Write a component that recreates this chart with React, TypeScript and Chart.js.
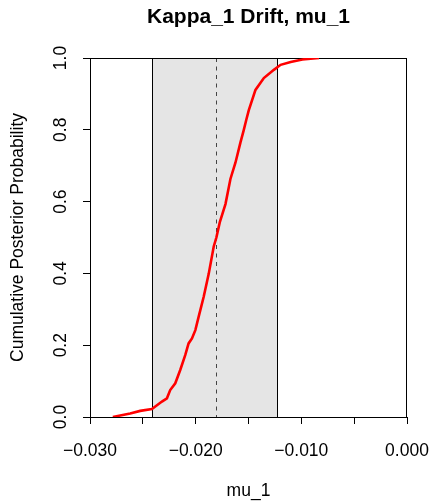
import React, { useEffect, useRef } from 'react';
import { Chart, registerables } from 'chart.js';

Chart.register(...registerables);

// ---- Data ----
const chartTitle = 'Kappa_1 Drift, mu_1';
const xAxisTitle = 'mu_1';
const yAxisTitle = 'Cumulative Posterior Probability';

const xMin = -0.03;
const xMax = 0;
const xTickStep = 0.005;
const xLabelValues = [-0.03, -0.02, -0.01, 0];
const yTickValues = [0, 0.2, 0.4, 0.6, 0.8, 1.0];

const cdfX = [
  -0.02784, -0.0262, -0.02525, -0.02414, -0.02319, -0.02272, -0.02241, -0.02193,
  -0.02146, -0.02098, -0.02067, -0.02035, -0.02003, -0.01972, -0.01924, -0.01877,
  -0.01829, -0.01804, -0.01772, -0.01718, -0.01671, -0.01623, -0.01576, -0.01545,
  -0.01519, -0.01497, -0.01434, -0.01355, -0.0126, -0.01196, -0.01101, -0.0099,
  -0.00833,
];
const cdfY = [
  0.0, 0.01, 0.017, 0.022, 0.043, 0.052, 0.075, 0.094,
  0.131, 0.173, 0.205, 0.219, 0.242, 0.279, 0.335, 0.398,
  0.475, 0.5, 0.542, 0.593, 0.663, 0.709, 0.765, 0.799,
  0.83, 0.855, 0.911, 0.944, 0.967, 0.981, 0.989, 0.996,
  1.0,
];

const intervalLower = -0.02411;
const intervalUpper = -0.01228;
const medianValue = -0.01804;

const FONT = '"Liberation Sans", Arial, Helvetica, sans-serif';
const BASE_SIZE = 17.5;

const fmtX = (v: number) => {
  const r = Math.round(v * 1000);
  if (r === 0) return '0.000';
  return (r / 1000).toFixed(3).replace('-', '\u2212');
};

const decorPlugin = {
  id: 'decor',
  beforeDatasetsDraw(chart: any) {
    const { ctx, chartArea: a, scales } = chart;
    const x = scales.x;
    const y = scales.y;
    const l = x.getPixelForValue(intervalLower);
    const u = x.getPixelForValue(intervalUpper);
    const m = x.getPixelForValue(medianValue);
    const top = y.getPixelForValue(1);
    const bot = y.getPixelForValue(0);
    ctx.save();
    ctx.fillStyle = '#E5E5E5';
    ctx.fillRect(l, top, u - l, bot - top);
    ctx.strokeStyle = '#000';
    ctx.lineWidth = 1;
    ctx.beginPath();
    ctx.moveTo(Math.round(l) + 0.5, top);
    ctx.lineTo(Math.round(l) + 0.5, bot);
    ctx.moveTo(Math.round(u) + 0.5, top);
    ctx.lineTo(Math.round(u) + 0.5, bot);
    ctx.stroke();
    ctx.setLineDash([4, 4.5]);
    ctx.strokeStyle = '#444';
    ctx.beginPath();
    ctx.moveTo(Math.round(m) + 0.5, top);
    ctx.lineTo(Math.round(m) + 0.5, bot);
    ctx.stroke();
    ctx.setLineDash([]);
    ctx.strokeStyle = '#000';
    const L = Math.round(a.left) + 0.5;
    const T = Math.round(a.top) + 0.5;
    const R = Math.round(a.right) - 0.5;
    const B = Math.round(a.bottom) + 0.5;
    ctx.strokeRect(L, T, R - L, B - T);
    ctx.restore();
  },
  afterDraw(chart: any) {
    const { ctx, chartArea: a, scales } = chart;
    const y = scales.y;
    const cx = (a.left + a.right) / 2;
    ctx.save();
    ctx.fillStyle = '#000';
    // title
    ctx.font = `bold ${BASE_SIZE * 1.2}px ${FONT}`;
    ctx.textAlign = 'center';
    ctx.textBaseline = 'alphabetic';
    ctx.fillText(chartTitle, cx, 23);
    // x axis title
    ctx.font = `${BASE_SIZE}px ${FONT}`;
    ctx.fillText(xAxisTitle, cx, 496);
    // y tick labels (rotated)
    yTickValues.forEach((v) => {
      const py = y.getPixelForValue(v);
      ctx.save();
      ctx.translate(65.5, py);
      ctx.rotate(-Math.PI / 2);
      ctx.fillText(v.toFixed(1), 0, 0);
      ctx.restore();
    });
    // y axis title
    ctx.save();
    ctx.translate(22.5, (a.top + a.bottom) / 2);
    ctx.rotate(-Math.PI / 2);
    ctx.fillText(yAxisTitle, 0, 0);
    ctx.restore();
    ctx.restore();
  },
};

export default function App() {
  const ref = useRef<HTMLCanvasElement | null>(null);
  useEffect(() => {
    if (!ref.current) return;
    const chart = new Chart(ref.current, {
      type: 'scatter',
      data: {
        datasets: [
          {
            label: 'CDF',
            data: cdfX.map((xv, i) => ({ x: xv, y: cdfY[i] })),
            showLine: true,
            borderColor: '#FF0000',
            backgroundColor: '#FF0000',
            borderWidth: 2.6,
            pointRadius: 0,
            tension: 0,
            fill: false,
          },
        ],
      },
      options: {
        responsive: false,
        animation: false,
        devicePixelRatio: 1,
        layout: { padding: { top: 58, right: 24, left: 0, bottom: 0 } },
        plugins: {
          legend: { display: false },
          title: { display: false },
          tooltip: { enabled: false },
        },
        scales: {
          x: {
            type: 'linear',
            min: xMin,
            max: xMax,
            border: { display: false },
            grid: {
              drawOnChartArea: false,
              drawTicks: true,
              tickLength: 7,
              color: '#000',
              lineWidth: 1,
            },
            ticks: {
              stepSize: xTickStep,
              autoSkip: false,
              maxRotation: 0,
              minRotation: 0,
              padding: 17,
              color: '#000',
              font: { family: FONT, size: BASE_SIZE },
              callback: (v: any) => {
                const val = Number(v);
                const hit = xLabelValues.some((lv) => Math.abs(lv - val) < 1e-9);
                return hit ? fmtX(val) : '';
              },
            },
            afterFit: (scale: any) => {
              scale.height = 84;
              scale.paddingLeft = 0;
              scale.paddingRight = 0;
            },
          },
          y: {
            type: 'linear',
            min: 0,
            max: 1,
            border: { display: false },
            grid: {
              drawOnChartArea: false,
              drawTicks: true,
              tickLength: 7,
              color: '#000',
              lineWidth: 1,
            },
            ticks: {
              stepSize: 0.2,
              display: false,
            },
            afterFit: (scale: any) => {
              scale.width = 90;
              scale.paddingTop = 0;
              scale.paddingBottom = 0;
            },
          },
        },
      },
      plugins: [decorPlugin],
    });
    return () => chart.destroy();
  }, []);
  return (
    <div style={{ position: 'absolute', left: 0, top: 0, width: 431, height: 501, background: '#fff' }}>
      <canvas ref={ref} width={431} height={501} style={{ display: 'block' }} />
    </div>
  );
}
